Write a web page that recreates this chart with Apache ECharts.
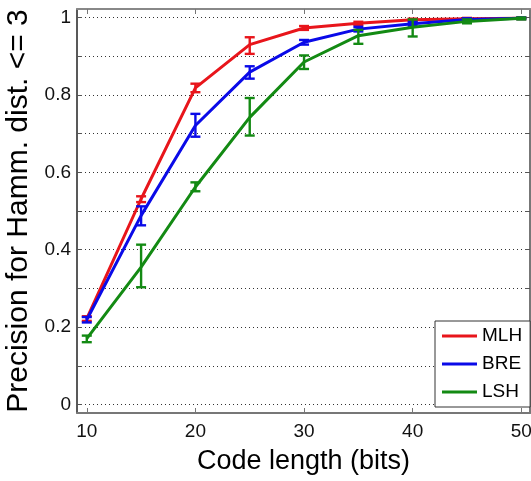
<!DOCTYPE html>
<html>
<head>
<meta charset="utf-8">
<script src="https://cdn.jsdelivr.net/npm/echarts@6/dist/echarts.min.js"></script>
<style>
html,body{margin:0;padding:0;background:#fff;}
#chart{width:531px;height:481px;}
</style>
</head>
<body>
<div id="chart"></div>
<script>
// ---- data ----
var codeLengths = [10, 15, 20, 25, 30, 35, 40, 45, 50];
var seriesNames = ['MLH', 'BRE', 'LSH'];
var mlh     = [0.222, 0.531, 0.818, 0.930, 0.973, 0.985, 0.994, 0.997, 0.998];
var mlhLow  = [0.216, 0.523, 0.807, 0.906, 0.968, 0.981, 0.991, 0.995, 0.996];
var mlhHigh = [0.228, 0.538, 0.829, 0.949, 0.978, 0.989, 0.997, 0.999, 1.000];
var bre     = [0.219, 0.488, 0.721, 0.859, 0.936, 0.970, 0.984, 0.995, 0.998];
var breLow  = [0.212, 0.463, 0.692, 0.842, 0.930, 0.964, 0.979, 0.992, 0.996];
var breHigh = [0.226, 0.512, 0.751, 0.874, 0.942, 0.976, 0.989, 0.998, 1.000];
var lsh     = [0.170, 0.355, 0.562, 0.742, 0.885, 0.953, 0.975, 0.990, 0.998];
var lshLow  = [0.161, 0.303, 0.551, 0.695, 0.867, 0.932, 0.951, 0.985, 0.995];
var lshHigh = [0.178, 0.413, 0.574, 0.792, 0.902, 0.968, 0.995, 0.995, 1.000];
var xTicks = [10, 20, 30, 40, 50];
var yLabelTicks = [0, 0.2, 0.4, 0.6, 0.8, 1];
var yGridTicks = [0, 0.1, 0.2, 0.3, 0.4, 0.5, 0.6, 0.7, 0.8, 0.9, 1];

var colors = ['#e8151b', '#0a0ae8', '#138a13'];
var FONT = 'Liberation Sans, Arial, Helvetica, sans-serif';

function pairs(vals) { return codeLengths.map(function (x, i) { return [x, vals[i]]; }); }

function lineSeries(name, vals, color, z) {
  return {
    type: 'line', name: name, data: pairs(vals), symbol: 'none',
    lineStyle: { color: color, width: 3 }, itemStyle: { color: color },
    z: z, silent: true
  };
}
function errSeries(name, lo, hi, color, z) {
  return {
    type: 'custom', name: name + ' err', z: z, silent: true,
    data: codeLengths.map(function (x, i) { return [x, lo[i], hi[i]]; }),
    encode: { x: 0, y: [1, 2] },
    renderItem: function (params, api) {
      var x = api.value(0);
      var a = api.coord([x, api.value(1)]);
      var b = api.coord([x, api.value(2)]);
      var w = 5;
      var st = { stroke: color, lineWidth: 2.4 };
      return { type: 'group', children: [
        { type: 'line', shape: { x1: a[0], y1: a[1], x2: b[0], y2: b[1] }, style: st },
        { type: 'line', shape: { x1: a[0] - w, y1: a[1], x2: a[0] + w, y2: a[1] }, style: st },
        { type: 'line', shape: { x1: b[0] - w, y1: b[1], x2: b[0] + w, y2: b[1] }, style: st }
      ]};
    }
  };
}

var chart = echarts.init(document.getElementById('chart'), null, { renderer: 'canvas' });
chart.setOption({
  animation: false,
  backgroundColor: '#fff',
  grid: { left: 77, top: 9, right: 1, bottom: 68, containLabel: false, outerBoundsMode: 'none' },
  legend: {
    data: seriesNames, orient: 'vertical', left: 435, top: 321,
    padding: [5, 8, 5, 7], itemGap: 8, itemWidth: 35, itemHeight: 3, icon: 'rect',
    backgroundColor: '#fff', borderColor: '#333', borderWidth: 1, borderRadius: 0,
    textStyle: { fontFamily: FONT, fontSize: 19, color: '#000', lineHeight: 20 },
    selectedMode: false, z: 20
  },
  xAxis: [{
    type: 'value', min: 9.1, max: 50.8, position: 'bottom',
    name: 'Code length (bits)', nameLocation: 'middle', nameGap: 35,
    nameTextStyle: { fontFamily: FONT, fontSize: 27, color: '#000' },
    axisLine: { show: true, onZero: false, lineStyle: { color: '#777', width: 2 } },
    axisTick: { show: true, inside: true, length: 5, customValues: xTicks, lineStyle: { color: '#777', width: 1 } },
    axisLabel: { customValues: xTicks, margin: 9, fontFamily: FONT, fontSize: 19, color: '#111' },
    splitLine: { show: false }
  }, {
    type: 'value', min: 9.1, max: 50.8, position: 'top',
    axisLine: { show: true, onZero: false, lineStyle: { color: '#888', width: 2 } },
    axisTick: { show: true, inside: true, length: 5, customValues: xTicks, lineStyle: { color: '#777', width: 1 } },
    axisLabel: { show: false }, splitLine: { show: false }
  }],
  yAxis: [{
    type: 'value', min: -0.022, max: 1.022, position: 'left',
    name: 'Precision for Hamm. dist. <= 3', nameLocation: 'middle', nameGap: 38,
    nameTextStyle: { fontFamily: FONT, fontSize: 30, color: '#000' },
    axisLine: { show: true, onZero: false, lineStyle: { color: '#222', width: 1.5 } },
    axisTick: { show: true, inside: true, length: 5, customValues: yGridTicks, lineStyle: { color: '#555', width: 1 } },
    axisLabel: { customValues: yLabelTicks, margin: 6, fontFamily: FONT, fontSize: 19, color: '#111' },
    splitLine: { show: true, lineStyle: { color: '#333', width: 1, type: [1, 3] } }
  }, {
    type: 'value', min: -0.022, max: 1.022, position: 'right',
    axisLine: { show: true, onZero: false, lineStyle: { color: '#777', width: 2 } },
    axisTick: { show: true, inside: true, length: 5, customValues: yGridTicks, lineStyle: { color: '#555', width: 1 } },
    axisLabel: { show: false }, splitLine: { show: false }
  }],
  series: [
    errSeries('MLH', mlhLow, mlhHigh, colors[0], 3),
    lineSeries('MLH', mlh, colors[0], 3),
    errSeries('BRE', breLow, breHigh, colors[1], 4),
    lineSeries('BRE', bre, colors[1], 4),
    errSeries('LSH', lshLow, lshHigh, colors[2], 5),
    lineSeries('LSH', lsh, colors[2], 5)
  ]
});
</script>
</body>
</html>
